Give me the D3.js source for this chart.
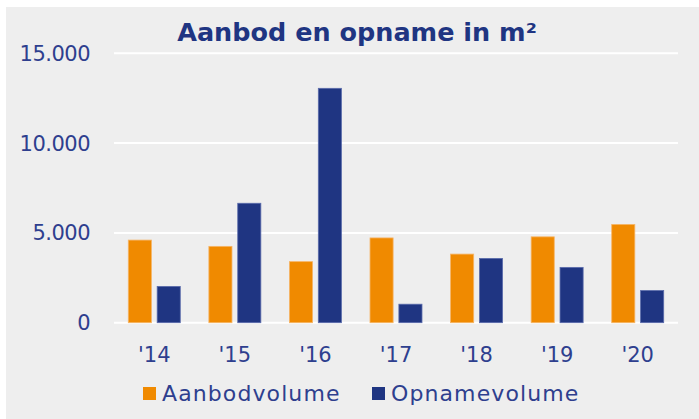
<!DOCTYPE html>
<meta charset="utf-8">
<head>
    <script src="https://d3js.org/d3.v7.min.js"></script>
    <style>
    body { margin: 0; background: #fff; }
    text { font-family: "DejaVu Sans", sans-serif; }
    </style>
</head>
<body>
    <script>
    // data
    var years = ["'14", "'15", "'16", "'17", "'18", "'19", "'20"];
    var aanbod = [4600, 4250, 3400, 4720, 3820, 4780, 5470];
    var opname = [2020, 6650, 13050, 1030, 3580, 3080, 1790];
    var seriesNames = ["Aanbodvolume", "Opnamevolume"];
    var seriesColors = ["#f08a00", "#1f3582"];
    var yTicks = [0, 5000, 10000, 15000];

    var W = 699, H = 419;
    var textColor = "#2e3f8e";

    var svg = d3.select("body").append("svg")
        .attr("width", W)
        .attr("height", H);

    // grey panel
    svg.append("rect")
        .attr("x", 6).attr("y", 7)
        .attr("width", W - 6).attr("height", H - 7)
        .attr("fill", "#eeeeee");

    // scales
    var x0 = d3.scaleBand()
        .domain(years)
        .range([114, 678])
        .paddingInner(0.355)
        .paddingOuter(0.1775);
    var x1 = d3.scaleBand()
        .domain(seriesNames)
        .range([0, x0.bandwidth()])
        .paddingInner(0.2);
    var y = d3.scaleLinear()
        .domain([0, 15000])
        .range([322.7, 53.3]);

    // gridlines + y labels
    var fmt = function(v) { return d3.format(",")(v).replace(/,/g, "."); };
    svg.append("g").selectAll("line")
        .data(yTicks)
        .enter().append("line")
        .attr("x1", 114).attr("x2", 678)
        .attr("y1", function(d) { return y(d); })
        .attr("y2", function(d) { return y(d); })
        .attr("stroke", "#ffffff")
        .attr("stroke-width", 2);
    svg.append("g").selectAll("text")
        .data(yTicks)
        .enter().append("text")
        .attr("x", 90)
        .attr("y", function(d) { return y(d); })
        .attr("dy", "0.36em")
        .attr("text-anchor", "end")
        .attr("fill", textColor)
        .style("font-size", "21px")
        .style("letter-spacing", "-0.5px")
        .text(fmt);

    // bars
    var rows = years.map(function(yr, i) {
        return { year: yr, values: [aanbod[i], opname[i]] };
    });
    var groups = svg.append("g").selectAll("g")
        .data(rows)
        .enter().append("g")
        .attr("transform", function(d) { return "translate(" + x0(d.year) + ",0)"; });
    groups.selectAll("rect")
        .data(function(d) {
            return d.values.map(function(v, j) { return { name: seriesNames[j], value: v, j: j }; });
        })
        .enter().append("rect")
        .attr("x", function(d) { return x1(d.name); })
        .attr("width", x1.bandwidth())
        .attr("y", function(d) { return y(d.value); })
        .attr("height", function(d) { return y(0) - y(d.value); })
        .attr("fill", function(d) { return seriesColors[d.j]; })
        .attr("stroke", function(d) { return d.j === 0 ? "#f6b466" : "#5a6bab"; })
        .attr("stroke-width", 0.8);

    // x labels
    svg.append("g").selectAll("text")
        .data(years)
        .enter().append("text")
        .attr("x", function(d) { return x0(d) + x0.bandwidth() / 2; })
        .attr("y", 362)
        .attr("text-anchor", "middle")
        .attr("fill", textColor)
        .style("font-size", "21px")
        .text(function(d) { return d; });

    // title
    svg.append("text")
        .attr("x", 357)
        .attr("y", 41)
        .attr("text-anchor", "middle")
        .attr("fill", "#1f3582")
        .style("font-size", "25.5px")
        .style("font-weight", "bold")
        .text("Aanbod en opname in m²");

    // legend
    var legendX = [143, 372];
    var legend = svg.append("g").selectAll("g")
        .data(seriesNames)
        .enter().append("g")
        .attr("transform", function(d, i) { return "translate(" + legendX[i] + ",387)"; });
    legend.append("rect")
        .attr("width", 13).attr("height", 13)
        .attr("fill", function(d, i) { return seriesColors[i]; });
    legend.append("text")
        .attr("x", 19)
        .attr("y", 14)
        .attr("fill", textColor)
        .style("font-size", "22px")
        .style("letter-spacing", "1.1px")
        .text(function(d) { return d; });
    </script>
</body>
</html>
